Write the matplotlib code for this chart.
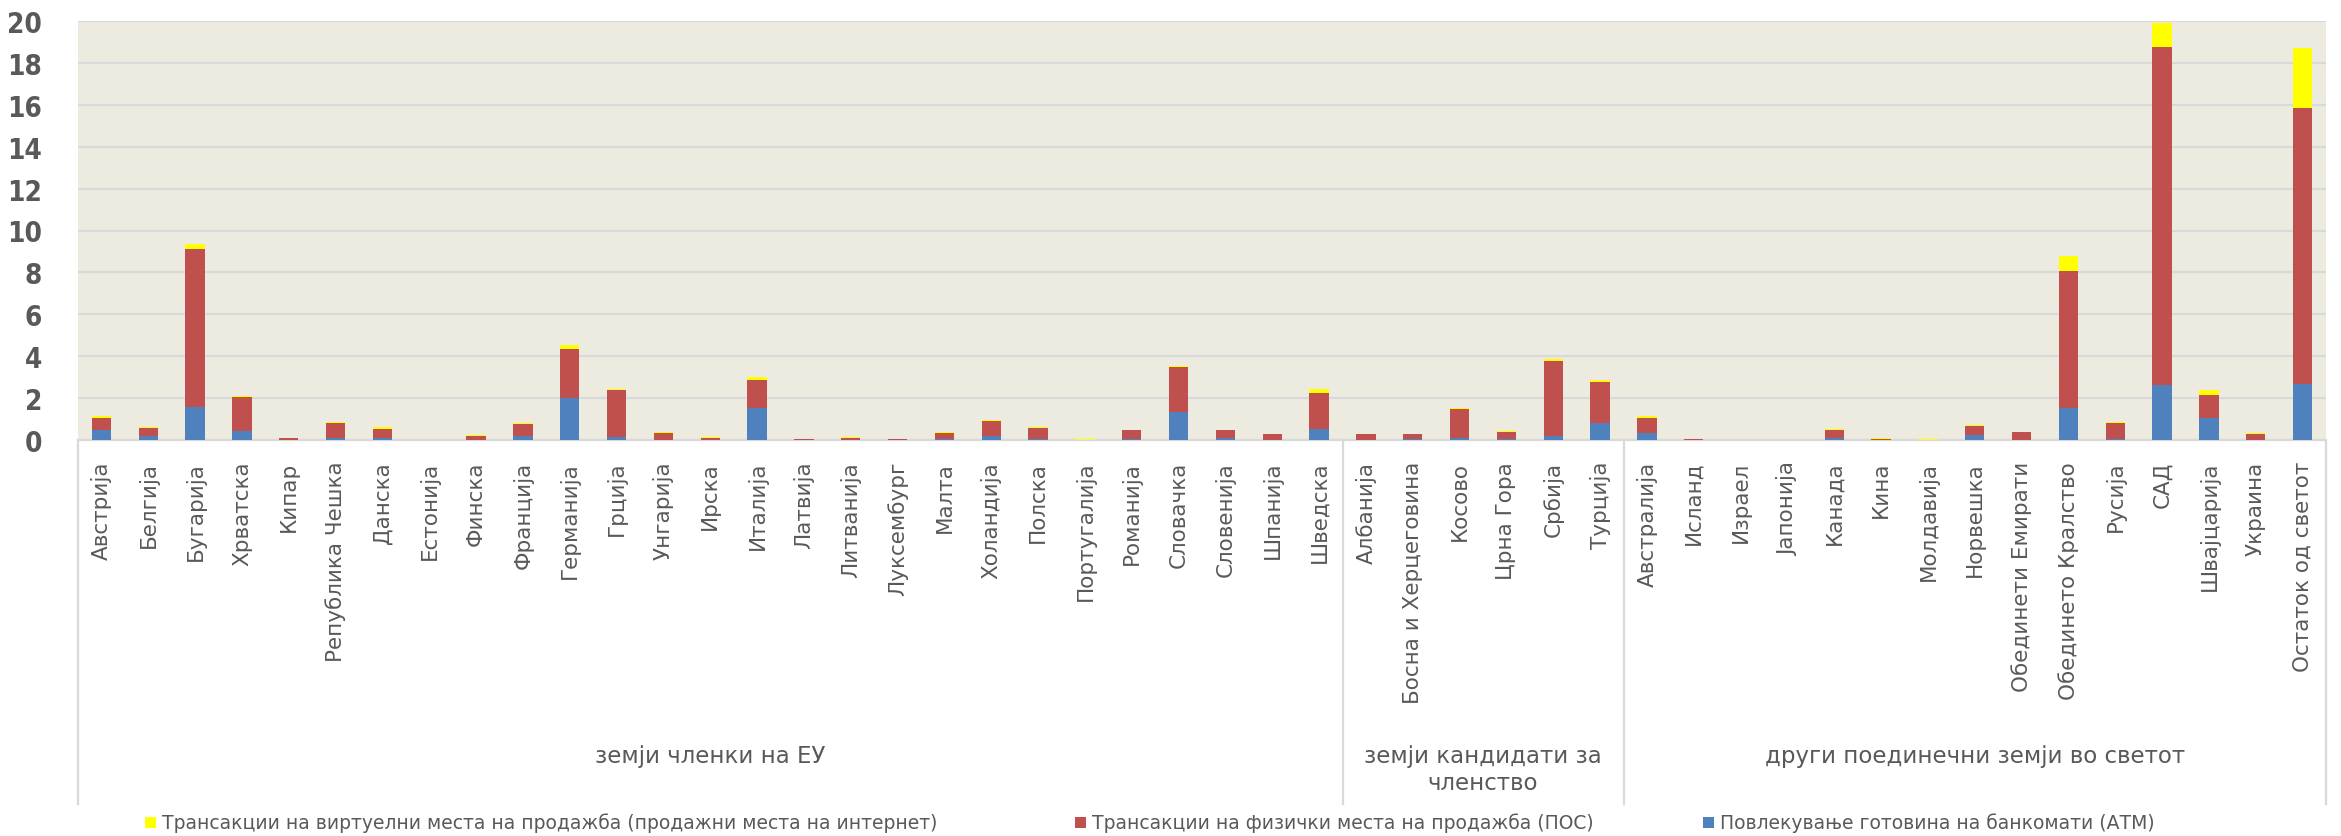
import matplotlib
matplotlib.use("Agg")
import matplotlib.pyplot as plt
from matplotlib.patches import Rectangle
from matplotlib.lines import Line2D
import numpy as np

countries = [
    "Австрија", "Белгија", "Бугарија", "Хрватска", "Кипар", "Република Чешка", "Данска",
    "Естонија", "Финска", "Франција", "Германија", "Грција", "Унгарија", "Ирска", "Италија",
    "Латвија", "Литванија", "Луксембург", "Малта", "Холандија", "Полска", "Португалија",
    "Романија", "Словачка", "Словенија", "Шпанија", "Шведска",
    "Албанија", "Босна и Херцеговина", "Косово", "Црна Гора", "Србија", "Турција",
    "Австралија", "Исланд", "Израел", "Јапонија", "Канада", "Кина", "Молдавија", "Норвешка",
    "Обединети Емирати", "Обединето Кралство", "Русија", "САД", "Швајцарија", "Украина",
    "Остаток од светот",
]

groups = ["земји членки на ЕУ", "земји кандидати за\nчленство", "други поединечни земји во светот"]
group_sizes = [27, 6, 15]

atm = [0.48, 0.19, 1.57, 0.41, 0.01, 0.10, 0.10, 0.00, 0.02, 0.19, 2.00, 0.16, 0.02, 0.02, 1.54,
       0.005, 0.01, 0.00, 0.05, 0.20, 0.05, 0.005, 0.03, 1.35, 0.11, 0.02, 0.51,
       0.01, 0.03, 0.10, 0.05, 0.20, 0.83,
       0.33, 0.00, 0.00, 0.00, 0.10, 0.01, 0.00, 0.22, 0.02, 1.53, 0.04, 2.61, 1.05, 0.01, 2.67]
pos = [0.59, 0.38, 7.57, 1.66, 0.07, 0.73, 0.44, 0.01, 0.19, 0.56, 2.36, 2.24, 0.31, 0.09, 1.34,
       0.02, 0.10, 0.03, 0.27, 0.69, 0.54, 0.01, 0.43, 2.12, 0.35, 0.25, 1.75,
       0.26, 0.24, 1.39, 0.35, 3.58, 1.95,
       0.72, 0.03, 0.005, 0.005, 0.38, 0.06, 0.01, 0.45, 0.35, 6.55, 0.77, 16.13, 1.08, 0.28, 13.20]
web = [0.07, 0.05, 0.21, 0.04, 0.01, 0.03, 0.08, 0.01, 0.04, 0.06, 0.19, 0.05, 0.03, 0.04, 0.11,
       0.02, 0.04, 0.03, 0.06, 0.06, 0.05, 0.03, 0.03, 0.08, 0.03, 0.03, 0.19,
       0.03, 0.03, 0.04, 0.05, 0.10, 0.10,
       0.09, 0.03, 0.01, 0.01, 0.06, 0.03, 0.03, 0.06, 0.03, 0.71, 0.03, 1.15, 0.24, 0.04, 2.84]

series_labels = [
    "Трансакции на виртуелни места на продажба (продажни места на интернет)",
    "Трансакции на физички места на продажба (ПОС)",
    "Повлекување готовина на банкомати (АТМ)",
]
yticks = [0, 2, 4, 6, 8, 10, 12, 14, 16, 18, 20]

C_BLUE = "#4F81BD"
C_RED = "#C0504D"
C_YEL = "#FFFF00"
GREY_TXT = "#595959"
GRID = "#D9D9D9"

W, H = 2341, 837
fig = plt.figure(figsize=(W / 100, H / 100), dpi=100)
L, R, T, B = 78, 2326, 22, 441
ax = fig.add_axes([L / W, (H - B) / H, (R - L) / W, (B - T) / H])
ax.set_facecolor("#EDEBE0")

x = np.arange(len(countries))
atm_a = np.array(atm)
pos_a = np.array(pos)
web_a = np.array(web)
bw = 0.41
ax.bar(x, atm_a, bw, color=C_BLUE, zorder=3)
ax.bar(x, pos_a, bw, bottom=atm_a, color=C_RED, zorder=3)
ax.bar(x, web_a, bw, bottom=atm_a + pos_a, color=C_YEL, zorder=3)

ax.set_xlim(-0.5, len(countries) - 0.5)
ax.set_ylim(0, 20)
ax.set_yticks(yticks)
ax.set_yticklabels([str(v) for v in yticks], fontsize=20, fontweight="bold",
                   color=GREY_TXT, family="DejaVu Sans", fontstretch="condensed")
ax.tick_params(axis="y", length=0, pad=26)
ax.yaxis.grid(True, color=GRID, linewidth=1.6, zorder=0)
ax.set_axisbelow(True)
for s in ["left", "right", "top"]:
    ax.spines[s].set_visible(False)
ax.spines["bottom"].set_color(GRID)
ax.spines["bottom"].set_linewidth(1.6)

ax.set_xticks(x)
ax.set_xticklabels(countries, rotation=90, fontsize=15.5, color=GREY_TXT, va="top")
ax.tick_params(axis="x", length=0, pad=15)

# category box lines
box_bottom = 805
yb = -(box_bottom - B) / (B - T)
bounds = np.concatenate([[0], np.cumsum(group_sizes)]) - 0.5
for bx in bounds:
    ax.add_line(Line2D([bx, bx], [0, yb], transform=ax.get_xaxis_transform(),
                       color=GRID, linewidth=1.6, clip_on=False))

# group labels
gy = -(745 - B) / (B - T)
for i, g in enumerate(groups):
    cx = (bounds[i] + bounds[i + 1]) / 2
    ax.text(cx, gy, g, transform=ax.get_xaxis_transform(), ha="center", va="top",
            fontsize=16.5, color=GREY_TXT, linespacing=1.25, multialignment="center")

# legend (manual)
leg_y = 823
leg_items = [(145, C_YEL, series_labels[0]), (1075, C_RED, series_labels[1]), (1703, C_BLUE, series_labels[2])]
sq = 11
for lx, col, lab in leg_items:
    fig.patches.append(Rectangle((lx / W, (H - leg_y - sq / 2) / H), sq / W, sq / H,
                                 transform=fig.transFigure, facecolor=col, edgecolor="none"))
    fig.text((lx + sq + 6) / W, (H - leg_y) / H, lab, ha="left", va="center",
             fontsize=13.5, color=GREY_TXT)

fig.savefig("out.png", dpi=100, facecolor="white")
